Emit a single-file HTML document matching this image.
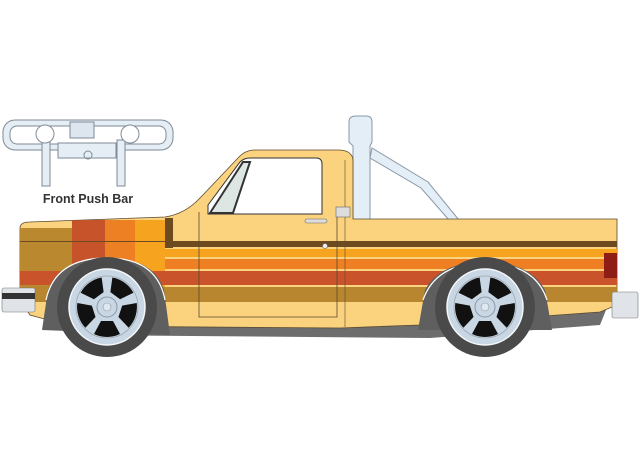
<!DOCTYPE html>
<html><head><style>
html,body{margin:0;padding:0;background:#fff;width:640px;height:470px;overflow:hidden}
</style></head><body>
<svg width="640" height="470" viewBox="0 0 640 470" xmlns="http://www.w3.org/2000/svg">
<defs>
<g id="wh">
<circle r="50" fill="#4a4a4a"/>
<circle r="38" fill="#c8d7e3" stroke="#f4f8fb" stroke-width="1.5"/>
<circle r="31" fill="none" stroke="#9aa8b4" stroke-width="0.8"/>
<g fill="#111">
<path id="hole" d="M-6 -14 L6 -14 L13 -27 A30 30 0 0 0 -13 -27 Z" transform="rotate(36)"/>
<use href="#hole" transform="rotate(72)"/>
<use href="#hole" transform="rotate(144)"/>
<use href="#hole" transform="rotate(216)"/>
<use href="#hole" transform="rotate(288)"/>
</g>
<circle r="10" fill="#c8d7e3" stroke="#8a98a6"/>
<circle r="4" fill="#dfe8ef" stroke="#8a98a6" stroke-width="0.6"/>
</g>
</defs>
<!-- Push bar -->
<g stroke="#7e8a96" stroke-width="1" fill="#e6eef5">
<rect x="3" y="120" width="170" height="30" rx="12"/>
<rect x="10" y="126" width="156" height="18" rx="7" fill="#fff"/>
<rect x="42" y="140" width="8" height="46" />
<rect x="117" y="140" width="8" height="46"/>
<circle cx="45" cy="134" r="9" fill="#fff"/>
<circle cx="130" cy="134" r="9" fill="#fff"/>
<rect x="70" y="122" width="24" height="16" fill="#dde6ee"/>
<rect x="58" y="143" width="58" height="15" fill="#e6eef5"/>
<circle cx="88" cy="155" r="4" fill="none"/>
</g>
<text x="88" y="203" font-family="Liberation Sans, sans-serif" font-size="12.5" font-weight="bold" fill="#333" text-anchor="middle">Front Push Bar</text>

<!-- roll bar / stack -->
<g fill="#e4eef7" stroke="#8a98a6" stroke-width="1">
<path d="M372 148 L428 182 L459 220 L449 220 L421 188 L370 158 Z"/>
<path d="M349 122 Q349 116 356 116 L366 116 Q372 116 372 122 L372 142 L370 146 L370 222 L353 222 L353 146 L349 142 Z"/>
</g>

<!-- gray under body -->
<path d="M45 300 L70 335 L430 338 L600 325 L610 300 Z" fill="#6d6d6d"/>

<!-- body -->
<path d="M20 228 Q20 222 30 222 L165 217 Q185 214 200 198 L238 158 Q245 150 255 150 L338 150 Q352 150 353 160 L353 219 L617 219 L617 305 L600 312 L420 325 L340 328 L70 326 L30 315 L20 300 Z" fill="#fbd27e" stroke="#5a4a30" stroke-width="0.8"/>

<!-- stripes -->
<clipPath id="b"><path d="M20 228 Q20 222 30 222 L165 217 L353 219 L617 219 L617 305 L600 312 L420 325 L340 328 L70 326 L30 315 L20 300 Z"/></clipPath>
<g clip-path="url(#b)">
<rect x="20" y="228" width="52" height="72" fill="#b9882f"/>
<rect x="72" y="220" width="33" height="80" fill="#c6532a"/>
<rect x="105" y="220" width="30" height="80" fill="#ec8023"/>
<rect x="135" y="220" width="30" height="80" fill="#f6a41f"/>
<rect x="165" y="218" width="8" height="30" fill="#6e4a20"/>
<rect x="165" y="241" width="452" height="6" fill="#6e4a20"/>
<rect x="165" y="249" width="452" height="8" fill="#f6a41f"/>
<rect x="165" y="259" width="452" height="10" fill="#ee7f22"/>
<rect x="20" y="271" width="597" height="14" fill="#c9532a"/>
<rect x="20" y="287" width="597" height="15" fill="#b8862e"/>
<rect x="20" y="241" width="145" height="1" fill="#6e4a20"/>
</g>

<!-- cab window -->
<path d="M208 214 L208 205 L240 162 Q244 158 250 158 L316 158 Q322 158 322 164 L322 214 Z" fill="#fff" stroke="#333" stroke-width="1"/>
<path d="M210 213 L243 162 L250 162 L233 213 Z" fill="#dde6e2" stroke="#333" stroke-width="2"/>
<!-- door -->
<path d="M199 212 L199 317 L337 317 L337 214" fill="none" stroke="#5a4a30" stroke-width="0.8"/>
<line x1="345" y1="160" x2="345" y2="327" stroke="#5a4a30" stroke-width="0.6"/>
<rect x="305" y="219" width="22" height="4" rx="2" fill="#ddd" stroke="#666" stroke-width="0.6"/>
<rect x="336" y="207" width="14" height="10" fill="#ddd" stroke="#666" stroke-width="0.6"/>
<circle cx="325" cy="246" r="2.5" fill="#eee" stroke="#666" stroke-width="0.6"/>
<!-- tail light -->
<rect x="604" y="253" width="13" height="25" fill="#8e1d15"/>

<!-- wheel arches -->
<path d="M42 330 L48 290 Q60 258 107 258 Q154 258 164 290 L170 335 Z" fill="#5f5f5f"/>
<path d="M418 330 L425 290 Q440 262 485 262 Q530 262 545 290 L552 330 Z" fill="#5f5f5f"/>
<path d="M46 300 Q55 258 107 258 Q157 258 165 300" fill="none" stroke="#fff" stroke-width="1.2"/>
<path d="M423 300 Q436 263 485 263 Q535 263 547 300" fill="none" stroke="#fff" stroke-width="1.2"/>

<!-- bumpers -->
<rect x="2" y="288" width="33" height="24" rx="2" fill="#e0e4e8" stroke="#777" stroke-width="0.6"/>
<rect x="2" y="293" width="33" height="6" fill="#333"/>
<rect x="612" y="292" width="26" height="26" rx="2" fill="#e0e4e8" stroke="#777" stroke-width="0.6"/>

<!-- wheels -->
<use href="#wh" transform="translate(107 307)"/>
<use href="#wh" transform="translate(485 307)"/>
</svg>
</body></html>
